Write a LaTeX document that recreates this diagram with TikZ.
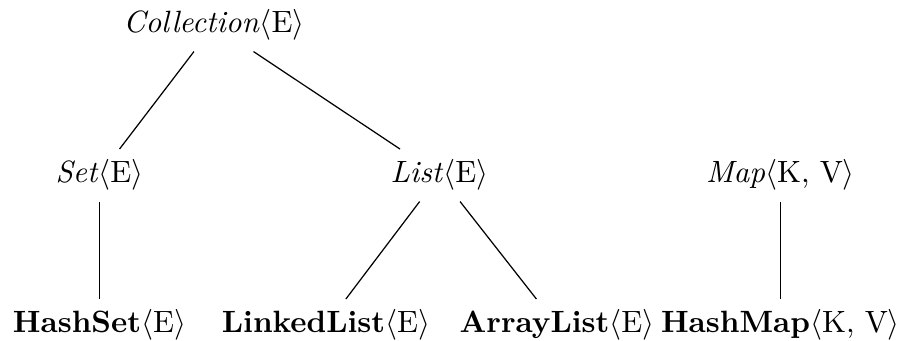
\documentclass[tikz,border=0pt]{standalone}
\begin{document}
\begin{tikzpicture}[x=0.3247pt,y=-0.3247pt,
  cls/.style={anchor=base,inner sep=3.333pt},
  edge/.style={draw=black,line width=0.4pt}]
\useasboundingbox (0,0) rectangle (903,341);
\node[cls] (coll) at (214,33) {\textit{Collection}$\langle$E$\rangle$};
\node[cls] (set) at (99.5,183) {\textit{Set}$\langle$E$\rangle$};
\node[cls] (list) at (439.5,183) {\textit{List}$\langle$E$\rangle$};
\node[cls] (map) at (780.5,183) {\textit{Map}$\langle$K, V$\rangle$};
\node[cls] (hset) at (99.5,333) {\textbf{HashSet}$\langle$E$\rangle$};
\node[cls] (llist) at (326,333) {\textbf{LinkedList}$\langle$E$\rangle$};
\node[cls] (alist) at (557,333) {\textbf{ArrayList}$\langle$E$\rangle$};
\node[cls] (hmap) at (780.5,333) {\textbf{HashMap}$\langle$K, V$\rangle$};
\draw[edge] (coll) -- (set);
\draw[edge] (coll) -- (list);
\draw[edge] (set) -- (hset);
\draw[edge] (list) -- (llist);
\draw[edge] (list) -- (alist);
\draw[edge] (map) -- (hmap);
\end{tikzpicture}
\end{document}
